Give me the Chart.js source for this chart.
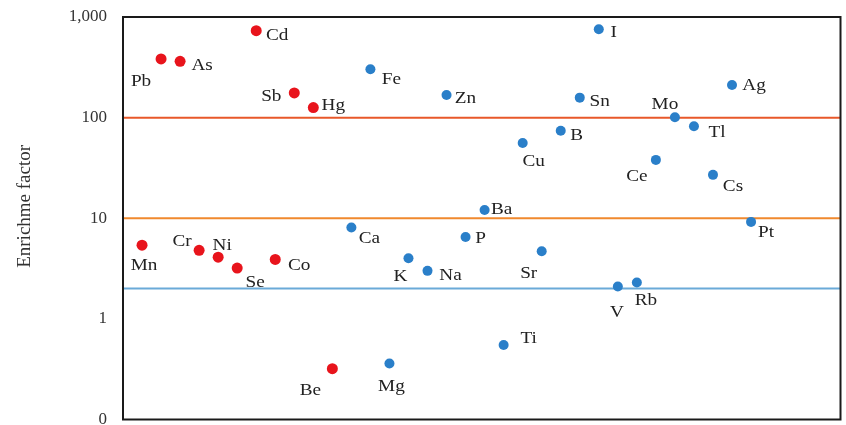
<!DOCTYPE html>
<html>
<head>
<meta charset="utf-8">
<script src="https://cdn.jsdelivr.net/npm/chart.js@4/dist/chart.umd.min.js"></script>
<style>
html,body{margin:0;padding:0;background:#fff;}
#wrap{width:846px;height:425px;}
</style>
</head>
<body>
<div id="wrap"><canvas id="efChart" width="846" height="425"></canvas></div>
<script>
// DATA
const elements = ["Mn","Pb","As","Cr","Ni","Se","Cd","Co","Sb","Hg","Be",
  "Ca","Fe","Mg","K","Na","Zn","P","Ba","Ti","Cu","Sr","B","Sn","I","V","Rb","Ce","Mo","Tl","Cs","Ag","Pt"];
const enrichment = [5.4,383,363,4.8,4.1,3.2,731,3.9,176,126,0.32,
  8.1,303,0.36,4.0,3.0,168,6.5,12.1,0.55,56,4.7,74,158,755,2.1,2.3,38,101,82,27,211,9.2];
// red = first 11 elements, blue = rest
const redCount = 11;
const thresholds = [100, 10, 2];
const yTicks = [0.1, 1, 10, 100, 1000];
const yTickLabels = ["0", "1", "10", "100", "1,000"];

// label offsets (px) from point to text centre
const labelOffsets = [
  [2,20],[-20,23],[22,4],[-17,-9],[4,-12],[18,14],[21,5],[24,6],[-23,4],[20,-2],[-22,22],
  [18,11],[21,10],[2,23],[-8,18],[23,5],[19,4],[15,1],[17,0],[25,-6],[11,19],[-13,22],
  [16,5],[20,4],[15,3],[-1,26],[9,18],[-19,17],[-10,-13],[23,6],[20,12],[22,1],[15,11]
];

const xMax = 37.7;

const redPts = [], bluePts = [];
elements.forEach((el, i) => {
  let p = {x: i + 1, y: enrichment[i]};
  if (i < redCount) redPts.push(p); else bluePts.push(p);
});

const lineColors = ["#e8582a", "#f0892e", "#6aaad8"];
const lineSets = thresholds.map((t, i) => ({
  type: "line",
  data: [{x: 0, y: t}, {x: xMax, y: t}],
  borderColor: lineColors[i],
  borderWidth: 2,
  pointRadius: 0,
  order: 5
}));

// frame + element labels
const extras = {
  id: "extras",
  afterDatasetsDraw(chart) {
    const ctx = chart.ctx;
    const a = chart.chartArea;
    const xs = chart.scales.x, ys = chart.scales.y;
    ctx.save();
    ctx.strokeStyle = "#1a1a1a";
    ctx.lineWidth = 2;
    ctx.strokeRect(a.left, a.top, a.right - a.left, a.bottom - a.top);
    ctx.font = "17px 'Liberation Serif', serif";
    ctx.fillStyle = "#222";
    ctx.textAlign = "center";
    ctx.textBaseline = "middle";
    elements.forEach((el, i) => {
      let px = xs.getPixelForValue(i + 1) + labelOffsets[i][0];
      let py = ys.getPixelForValue(enrichment[i]) + labelOffsets[i][1];
      ctx.save();
      ctx.translate(px, py);
      ctx.scale(1.13, 1);
      ctx.fillText(el, 0, 0);
      ctx.restore();
    });
    ctx.restore();
  }
};

new Chart(document.getElementById("efChart"), {
  type: "scatter",
  data: {
    datasets: [
      {data: redPts, backgroundColor: "#e8141c", borderWidth: 0, pointRadius: 5.5, order: 1},
      {data: bluePts, backgroundColor: "#2a7fc9", borderWidth: 0, pointRadius: 5, order: 1},
      ...lineSets
    ]
  },
  options: {
    responsive: false,
    animation: false,
    layout: {padding: {top: 17, right: 0, bottom: 5, left: 0}},
    plugins: {legend: {display: false}, tooltip: {enabled: false}},
    scales: {
      x: {
        type: "linear", min: 0, max: xMax,
        display: false
      },
      y: {
        type: "logarithmic", min: 0.1, max: 1000,
        afterFit(s) { s.width = 123; s.paddingTop = 0; s.paddingBottom = 0; },
        afterBuildTicks(s) { s.ticks = yTicks.map(v => ({value: v})); },
        grid: {display: false, drawTicks: false},
        border: {display: false},
        ticks: {
          padding: 16,
          color: "#333",
          font: {family: "'Liberation Serif', serif", size: 17},
          callback(v) {
            let k = yTicks.indexOf(v);
            return k >= 0 ? yTickLabels[k] : "";
          }
        },
        title: {
          display: true,
          text: "     Enrichme factor",
          color: "#333",
          font: {family: "'Liberation Serif', serif", size: 19},
          padding: {top: 14, bottom: 0}
        }
      }
    }
  },
  plugins: [extras]
});
</script>
</body>
</html>
